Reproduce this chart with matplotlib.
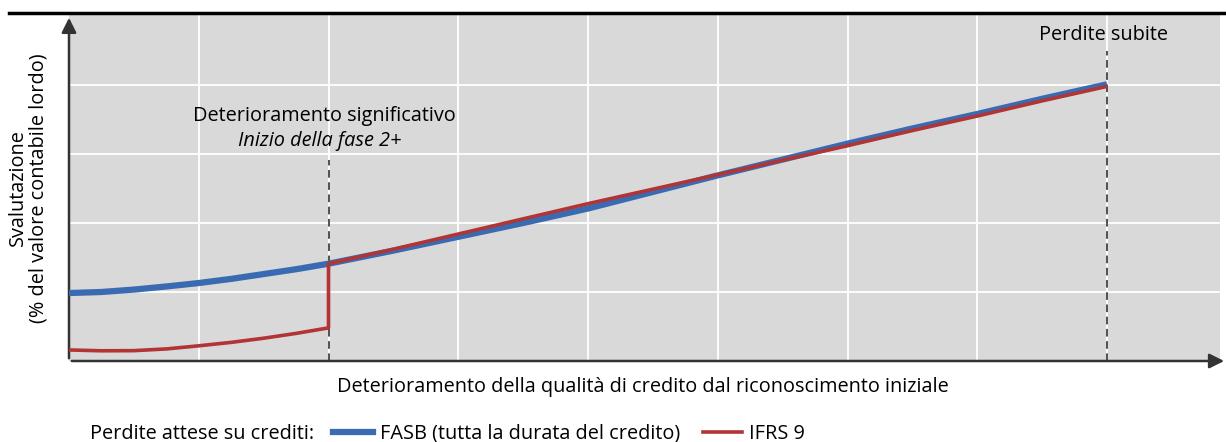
import matplotlib.pyplot as plt
from matplotlib.lines import Line2D

plt.rcParams['font.family'] = ['Open Sans', 'DejaVu Sans']

# deterioration steps (grid units on x)
x_pts = [0.0, 0.25, 0.5, 0.75, 1.0, 1.25, 1.5, 1.75, 2.0, 2.5, 3.0, 3.5, 4.0, 4.5, 5.0, 5.5, 6.0, 6.5, 7.0, 7.5, 8.0]

# lifetime expected loss
fasb = [0.985, 1.0, 1.035, 1.08, 1.13, 1.19, 1.26, 1.33, 1.41, 1.60, 1.80, 2.00, 2.21, 2.45, 2.69, 2.92, 3.15, 3.37, 3.58, 3.80, 4.01]

# IFRS 9: 12-month loss until stage 2, then lifetime
ifrs_x = [0.0, 0.25, 0.5, 0.75, 1.0, 1.25, 1.5, 1.75, 2.0, 2.0, 2.5, 3.0, 3.5, 4.0, 4.5, 5.0, 5.5, 6.0, 6.5, 7.0, 7.5, 8.0]
ifrs = [0.16, 0.148, 0.15, 0.175, 0.22, 0.27, 0.33, 0.40, 0.48, 1.41, 1.62, 1.84, 2.06, 2.28, 2.49, 2.70, 2.91, 3.12, 3.34, 3.55, 3.77, 3.98]

stage2_x = 2.0
loss_x = 8.0

blue = '#3a6bb2'
red = '#b13535'
fs = 14.3

fig = plt.figure(figsize=(12.26, 4.42), dpi=100)
ax = fig.add_axes([69 / 1226, 81 / 442, 1151 / 1226, 346 / 442])
ax.set_facecolor('#d9d9d9')
ax.set_xlim(0, 1151 / 129.75)
ax.set_ylim(0, 346 / 69)

ax.set_xticks(range(1, 9))
ax.set_yticks(range(1, 5))
ax.grid(color='white', linewidth=1.3)
ax.tick_params(length=0, labelbottom=False, labelleft=False)
for s in ax.spines.values():
    s.set_visible(False)

# axis arrows
ax.annotate('', xy=(1.006, 0), xytext=(0, 0), xycoords='axes fraction',
            arrowprops=dict(arrowstyle='-|>', color='#333333', lw=1.8, mutation_scale=22),
            annotation_clip=False)
ax.annotate('', xy=(0, 1.0), xytext=(0, 0), xycoords='axes fraction',
            arrowprops=dict(arrowstyle='-|>', color='#333333', lw=1.8, mutation_scale=22),
            annotation_clip=False)

ax.plot([stage2_x, stage2_x], [0, 2.91], ls=(0, (5, 3)), color='#222222', lw=1.1)
ax.plot([loss_x, loss_x], [0, 4.5], ls=(0, (5, 3)), color='#222222', lw=1.1)

ax.plot(x_pts, fasb, color=blue, lw=4.5, solid_capstyle='butt', solid_joinstyle='round', zorder=3)
ax.plot(ifrs_x, ifrs, color=red, lw=2.6, solid_capstyle='butt', zorder=4)

ax.text(stage2_x - 0.03, 3.55, 'Deterioramento significativo', ha='center', va='center', fontsize=fs)
ax.text(stage2_x - 0.07, 3.19, 'Inizio della fase 2+', ha='center', va='center', fontsize=fs, style='italic')
ax.text(loss_x - 0.03, 4.72, 'Perdite subite', ha='center', va='center', fontsize=fs)

fig.text(643 / 1226, 1 - 387 / 442, 'Deterioramento della qualità di credito dal riconoscimento iniziale',
         ha='center', va='center', fontsize=fs)
fig.text(28 / 1226, 1 - 188 / 442, 'Svalutazione\n(% del valore contabile lordo)',
         ha='center', va='center', rotation=90, fontsize=fs, linespacing=1.05)

# rule across the top
fig.add_artist(Line2D([9 / 1226, 1], [1 - 13 / 442, 1 - 13 / 442], color='black', lw=2.5))

fig.text(90 / 1226, 1 - 434 / 442, 'Perdite attese su crediti:', ha='left', va='center', fontsize=fs)
handles = [Line2D([], [], color=blue, lw=4.5), Line2D([], [], color=red, lw=2.6)]
fig.legend(handles, ['FASB (tutta la durata del credito)', 'IFRS 9'], ncol=2, frameon=False,
           loc='center left', bbox_to_anchor=(333 / 1226, 1 - 434 / 442), fontsize=fs,
           handlelength=2.0, handletextpad=0.35, columnspacing=1.15, borderaxespad=0, borderpad=0)

fig.savefig('out.png', dpi=100)
